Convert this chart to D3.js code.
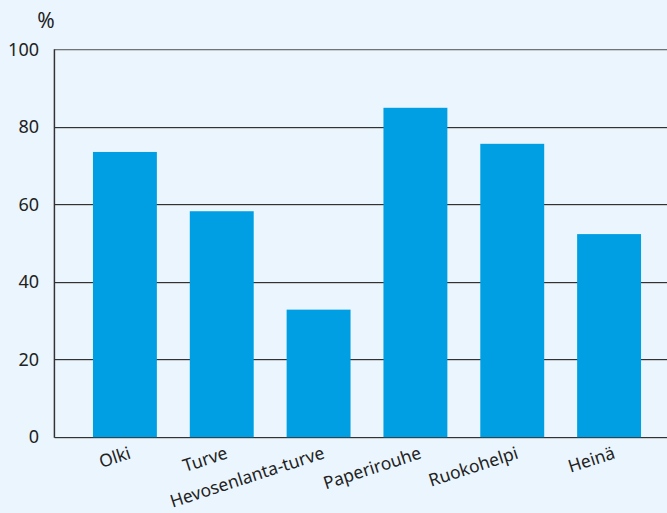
<!DOCTYPE html>
<html><head><meta charset="utf-8">
<script src="https://cdn.jsdelivr.net/npm/d3@7"></script>
<style>
html,body{margin:0;padding:0;background:#eaf5fd;}
svg{display:block;font-family:"Noto Sans",Lato,sans-serif;}
</style></head>
<body><svg id="c" width="667" height="513"></svg>
<script>
const categories = ["Olki","Turve","Hevosenlanta-turve","Paperirouhe","Ruokohelpi","Heinä"];
const values = [73.5, 58.2, 32.8, 84.9, 75.6, 52.3];
const yTicks = [0,20,40,60,80,100];
const unitLabel = "%";

const svg = d3.select("#c");
svg.append("rect").attr("width",667).attr("height",513).attr("fill","#eaf5fd");

const y = d3.scaleLinear().domain([0,100]).range([436.7,49.3]);
const x = d3.scaleBand().domain(categories).range([76.5,657.5]).paddingInner(0.34).paddingOuter(0.17);
const left = 54.5, right = 667;

// gridlines
const g = svg.append("g");
yTicks.forEach(t=>{
  const yy = Math.round(y(t));
  g.append("line").attr("x1",left).attr("x2",right).attr("y1",yy+1.5).attr("y2",yy+1.5).attr("stroke","#c9cdd0").attr("stroke-width",1);
  g.append("line").attr("x1",left).attr("x2",right).attr("y1",yy+0.5).attr("y2",yy+0.5).attr("stroke",t===100?"#6f7579":"#2f3336").attr("stroke-width",1.2);
});
// left axis line
svg.append("line").attr("x1",left-1).attr("x2",left-1).attr("y1",y(100)).attr("y2",y(0)+1).attr("stroke","#c9cdd0");
svg.append("line").attr("x1",left).attr("x2",left).attr("y1",y(100)).attr("y2",y(0)+1).attr("stroke","#2f3336").attr("stroke-width",1.3);

// bars
svg.append("g").selectAll("rect").data(values).join("rect")
  .attr("x",(d,i)=>x(categories[i]))
  .attr("width",x.bandwidth())
  .attr("y",d=>y(d))
  .attr("height",d=>y(0)-y(d)+0.5)
  .attr("fill","#009fe3");

// y tick labels
svg.append("g").selectAll("text").data(yTicks).join("text")
  .attr("x",39).attr("y",d=>y(d)).attr("dy","0.36em")
  .attr("text-anchor","end").attr("font-size",18).attr("fill","#222")
  .text(d=>d);

svg.append("text").attr("x",46).attr("y",28).attr("text-anchor","middle")
  .attr("font-size",21).attr("fill","#222").text(unitLabel);

// x labels
svg.append("g").selectAll("text").data(categories).join("text")
  .attr("transform",d=>`translate(${x(d)+x.bandwidth()/2+7},${458}) rotate(-18)`)
  .attr("text-anchor","end").attr("font-size",17.5).attr("fill","#222")
  .text(d=>d);
</script></body></html>
